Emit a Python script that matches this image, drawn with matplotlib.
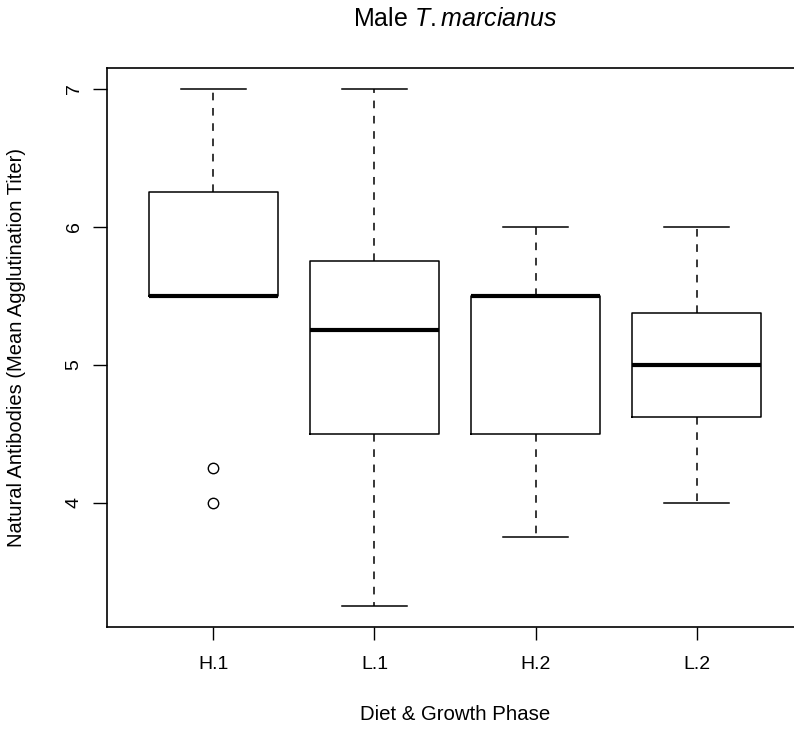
import matplotlib
matplotlib.use("Agg")
import matplotlib.pyplot as plt

plt.rcParams["font.family"] = "Liberation Sans"
plt.rcParams["mathtext.fontset"] = "custom"
plt.rcParams["mathtext.rm"] = "Liberation Sans"
plt.rcParams["mathtext.it"] = "Liberation Sans:italic"

# five-number summaries per diet / growth phase group
groups = ["H.1", "L.1", "H.2", "L.2"]
upper_whisker = [7.0, 7.0, 6.0, 6.0]
q3 = [6.25, 5.75, 5.5, 5.375]
medians = [5.5, 5.25, 5.5, 5.0]
q1 = [5.5, 4.5, 4.5, 4.625]
lower_whisker = [5.5, 3.25, 3.75, 4.0]
outliers = [[4.25, 4.0], [], [], []]
y_ticks = [4, 5, 6, 7]

stats = []
for i, name in enumerate(groups):
    stats.append({
        "label": name,
        "whislo": lower_whisker[i],
        "q1": q1[i],
        "med": medians[i],
        "q3": q3[i],
        "whishi": upper_whisker[i],
        "fliers": outliers[i],
    })

fig = plt.figure(figsize=(7.94, 7.30), dpi=100)
ax = fig.add_axes([107 / 794, 1 - 627 / 730, 696 / 794, 559 / 730])

ax.bxp(
    stats,
    positions=range(1, len(groups) + 1),
    widths=0.8,
    capwidths=0.4,
    boxprops=dict(color="black", lw=1.1),
    whiskerprops=dict(color="black", lw=1.1, linestyle=(0, (5, 5))),
    capprops=dict(color="black", lw=1.1),
    medianprops=dict(color="black", lw=3, solid_capstyle="butt"),
    flierprops=dict(marker="o", mfc="none", mec="black", ms=7.5, mew=1),
)

ax.set_xlim(0.34, 4.66)
ax.set_ylim(3.1, 7.15)
ax.set_yticks(y_ticks)
ax.set_yticklabels([str(t) for t in y_ticks], rotation=90, va="center")

for side in ax.spines.values():
    side.set_linewidth(1.2)

ax.tick_params(axis="x", length=9, width=1, pad=12, labelsize=14)
ax.tick_params(axis="y", length=10, width=1, pad=7.5, labelsize=14)

ax.set_title(r"Male $\mathit{T.marcianus}$", fontsize=18, pad=30)
ax.set_xlabel("Diet & Growth Phase", fontsize=14.7, va="baseline")
ax.xaxis.set_label_coords(0.5, -(720 - 627) / 559)
ax.set_ylabel("Natural Antibodies (Mean Agglutination Titer)", fontsize=14.5)
ax.yaxis.set_label_coords((26 - 107) / 696, 0.5)

fig.savefig("out.png", dpi=100)
